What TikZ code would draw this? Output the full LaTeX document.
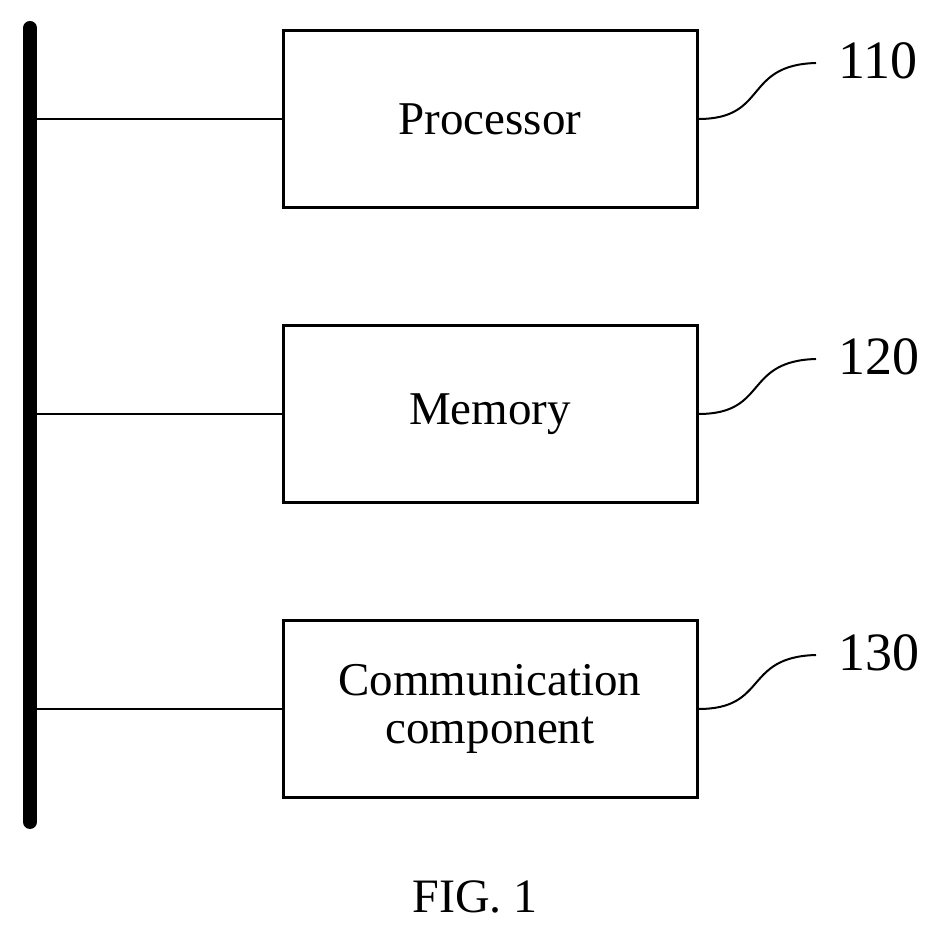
\documentclass[tikz,border=0pt]{standalone}
\usepackage{fontspec}
\setmainfont{Liberation Serif}
\usetikzlibrary{positioning, calc}
\tikzset{
  block/.style={rectangle, draw, line width=3pt, minimum width=414pt,
    minimum height=177pt, align=center, font=\fontsize{47}{52}\selectfont},
  link/.style={draw, line width=2pt},
  tag/.style={anchor=west, inner sep=0pt, font=\fontsize{54}{60}\selectfont}
}
\begin{document}
\begin{tikzpicture}[x=1pt, y=1pt]
    \useasboundingbox (0,0) rectangle (942,933);
    % Bus
    \draw [line width=14pt, line cap=round] (30,905) coordinate (bustop) -- (30,111) coordinate (busbot);
    % Nodes
    \node [block] (proc) at (490,814) {Processor};
    \node [block, below=115pt of proc] (mem) {Memory};
    \node [block, below=115pt of mem] (comm) {Communication\\[-4pt]component};
    \node [tag] (l110) at (838,872) {110};
    \node [tag] (l120) at (838,576) {120};
    \node [tag] (l130) at (838,280) {130};
    \node [font=\fontsize{48}{54}\selectfont] (fig) at (475,36) {FIG. 1};
    % Edges
    \foreach \n/\l in {proc/l110, mem/l120, comm/l130} {
      \path [link] (\n.west) -- (\n.west -| bustop);
      \path [link] (\n.east) .. controls ++(70,0) and ($(\l.west)+(-95,-4)$) .. ($(\l.west)+(-22,-2)$);
    }
\end{tikzpicture}
\end{document}
